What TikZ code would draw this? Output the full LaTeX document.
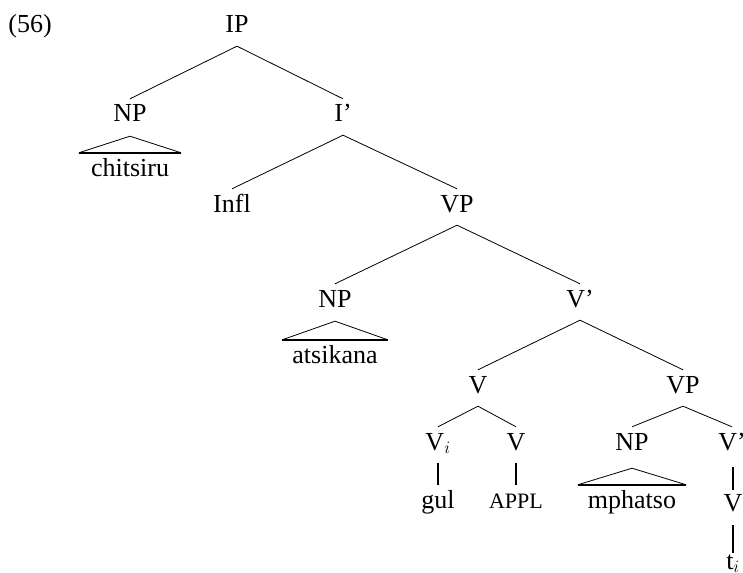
\documentclass[tikz,border=0pt]{standalone}
\usepackage{fontspec}
\setmainfont{Liberation Serif}
\begin{document}
\begin{tikzpicture}[x=1pt,y=-1pt,
  lab/.style={inner sep=0pt, text height=23pt, text depth=13pt, anchor=base, font=\fontsize{26}{30}\selectfont},
  br/.style={line width=0.8pt},
  barline/.style={line width=2.4pt},
  tribase/.style={line width=2pt}]
\useasboundingbox (0,0) rectangle (743,572);
\node[lab] (ex) at (30,33) {(56)};
\node[lab] (IP) at (237,33) {IP};
\node[lab] (NPa) at (130,122) {NP};
\node[lab] (Ibar) at (343,122) {I'};
\node[lab] (chitsiru) at (130,176) {chitsiru};
\node[lab] (Infl) at (232,212) {Infl};
\node[lab] (VPa) at (457,212) {VP};
\node[lab] (NPb) at (335,307) {NP};
\node[lab] (Vbara) at (580,307) {V'};
\node[lab] (atsikana) at (335,363) {atsikana};
\node[lab] (Va) at (478,393) {V};
\node[lab] (VPb) at (683,393) {VP};
\node[lab] (Vi) at (438,450) {V$_i$};
\node[lab] (Vb) at (516,450) {V};
\node[lab] (NPc) at (632,450) {NP};
\node[lab] (Vbarb) at (732,450) {V'};
\node[lab] (gul) at (438,508) {gul};
\node[lab] (appl) at (516,508) {\fontsize{22}{26}\selectfont APPL};
\node[lab] (mphatso) at (632,508) {mphatso};
\node[lab] (Vc) at (733,511) {V};
\node[lab] (ti) at (733,569) {t$_i$};
% branches
\draw[br] (IP.south) -- (NPa.north);
\draw[br] (IP.south) -- (Ibar.north);
\draw[br] (Ibar.south) -- (Infl.north);
\draw[br] (Ibar.south) -- (VPa.north);
\draw[br] (VPa.south) -- (NPb.north);
\draw[br] (VPa.south) -- (Vbara.north);
\draw[br] (Vbara.south) -- (Va.north);
\draw[br] (Vbara.south) -- (VPb.north);
\draw[br] (Va.south) -- (Vi.north);
\draw[br] (Va.south) -- (Vb.north);
\draw[br] (VPb.south) -- (NPc.north);
\draw[br] (VPb.south) -- (Vbarb.north);
% unary bars
\draw[barline] (Vi.south) -- (gul.north);
\draw[barline] (Vb.south) -- (appl.north);
\draw[barline, shorten <=4pt] (Vbarb.south -| Vc.north) -- ([yshift=-2pt]Vc.north);
\draw[barline] ([yshift=-1pt]Vc.south) -- ([yshift=-7pt]ti.north);
% triangles
\draw[br] ([xshift=-12pt]chitsiru.north west) -- ([yshift=-1pt]NPa.south) -- ([xshift=12pt]chitsiru.north east);
\draw[tribase] ([xshift=-12pt]chitsiru.north west) -- ([xshift=12pt]chitsiru.north east);
\draw[br] ([xshift=-10pt]atsikana.north west) -- ([yshift=-1pt]NPb.south) -- ([xshift=10pt]atsikana.north east);
\draw[tribase] ([xshift=-10pt]atsikana.north west) -- ([xshift=10pt]atsikana.north east);
\draw[br] ([xshift=-10pt]mphatso.north west) -- ([yshift=-5pt]NPc.south) -- ([xshift=10pt]mphatso.north east);
\draw[tribase] ([xshift=-10pt]mphatso.north west) -- ([xshift=10pt]mphatso.north east);
\end{tikzpicture}
\end{document}
